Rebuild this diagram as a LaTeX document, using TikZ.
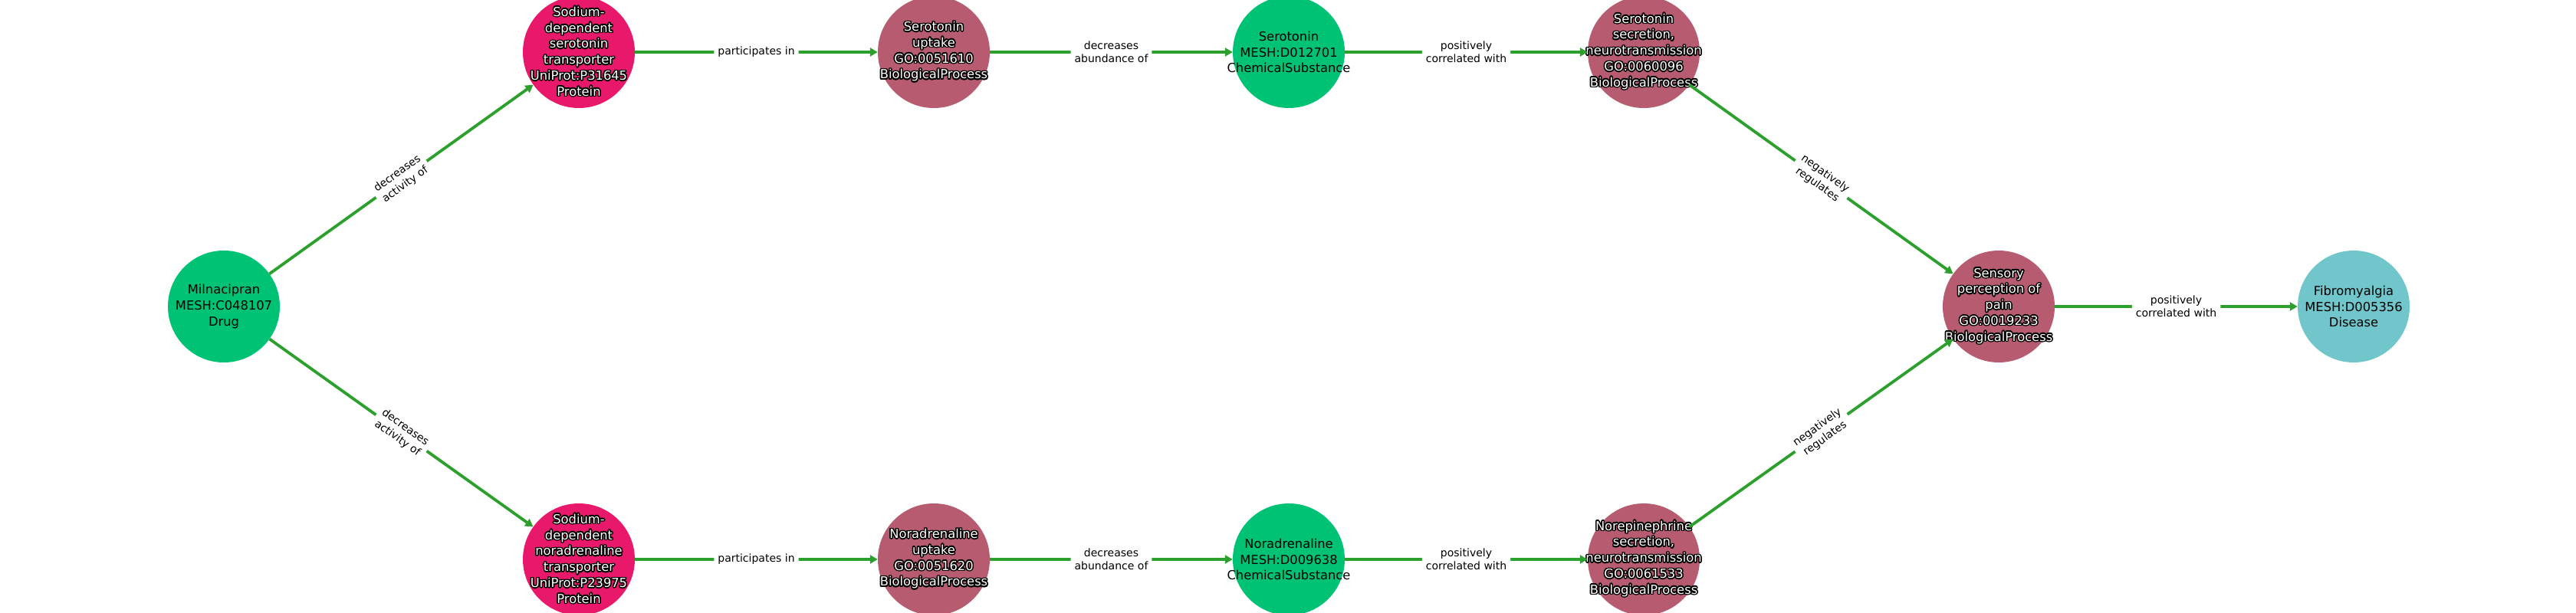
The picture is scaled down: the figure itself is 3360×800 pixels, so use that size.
\documentclass[tikz,border=0pt]{standalone}
\usepackage{fontspec}
\setmainfont{DejaVu Sans}
\usepackage[copies]{contour}
\contourlength{1.5pt}
\usetikzlibrary{arrows.meta}
\definecolor{cgreen}{HTML}{00C274}
\definecolor{cpink}{HTML}{E8196A}
\definecolor{cmauve}{HTML}{B75B70}
\definecolor{cteal}{HTML}{70C6CA}
\definecolor{cedge}{HTML}{2CA02C}
\newcommand\outl[1]{\contour{black}{#1}}
\begin{document}
\begin{tikzpicture}[x={(1pt,0pt)},y={(0pt,-1pt)},
  nd/.style={circle,minimum size=146pt,inner sep=0pt},
  chem/.style={nd,fill=cgreen},
  prot/.style={nd,fill=cpink},
  proc/.style={nd,fill=cmauve},
  dis/.style={nd,fill=cteal},
  txt/.style={inner sep=0pt,align=center,text=black,font=\fontsize{16.3}{20.8}\selectfont},
  wtxt/.style={txt,text=white},
  edge/.style={draw=cedge,line width=3.8pt,-{Triangle[length=10pt,width=11pt]}},
  lbl/.style={midway,fill=white,inner xsep=5pt,inner ysep=3pt,rounded corners=3pt,align=center,
    text=black,font=\fontsize{14}{17.5}\selectfont}]
\useasboundingbox (0,0) rectangle (3360,800);
\clip (0,0) rectangle (3360,800);
% nodes
\node[chem] (mil) at (292,400) {};
\node[prot] (sert) at (755,68) {};
\node[proc] (supt) at (1218,68) {};
\node[chem] (ser) at (1681,68) {};
\node[proc] (ssec) at (2144,68) {};
\node[proc] (pain) at (2607,400) {};
\node[dis] (fib) at (3070,400) {};
\node[prot] (net) at (755,730) {};
\node[proc] (nupt) at (1218,730) {};
\node[chem] (nor) at (1681,730) {};
\node[proc] (nsec) at (2144,730) {};
% node texts
\node[txt] (milT) at (mil) {Milnacipran\\MESH:C048107\\Drug};
\node[wtxt] (sertT) at (sert) {\outl{Sodium-}\\\outl{dependent}\\\outl{serotonin}\\\outl{transporter}\\\outl{UniProt:P31645}\\\outl{Protein}};
\node[wtxt] (suptT) at (supt) {\outl{Serotonin}\\\outl{uptake}\\\outl{GO:0051610}\\\outl{BiologicalProcess}};
\node[txt] (serT) at (ser) {Serotonin\\MESH:D012701\\ChemicalSubstance};
\node[wtxt] (ssecT) at (ssec) {\outl{Serotonin}\\\outl{secretion,}\\\outl{neurotransmission}\\\outl{GO:0060096}\\\outl{BiologicalProcess}};
\node[wtxt] (painT) at (pain) {\outl{Sensory}\\\outl{perception of}\\\outl{pain}\\\outl{GO:0019233}\\\outl{BiologicalProcess}};
\node[txt] (fibT) at (fib) {Fibromyalgia\\MESH:D005356\\Disease};
\node[wtxt] (netT) at (net) {\outl{Sodium-}\\\outl{dependent}\\\outl{noradrenaline}\\\outl{transporter}\\\outl{UniProt:P23975}\\\outl{Protein}};
\node[wtxt] (nuptT) at (nupt) {\outl{Noradrenaline}\\\outl{uptake}\\\outl{GO:0051620}\\\outl{BiologicalProcess}};
\node[txt] (norT) at (nor) {Noradrenaline\\MESH:D009638\\ChemicalSubstance};
\node[wtxt] (nsecT) at (nsec) {\outl{Norepinephrine}\\\outl{secretion,}\\\outl{neurotransmission}\\\outl{GO:0061533}\\\outl{BiologicalProcess}};
% edges
\draw[edge] (mil) -- node[lbl,sloped] {decreases\\activity of} (sert);
\draw[edge] (sert) -- node[lbl] {participates in} (supt);
\draw[edge] (supt) -- node[lbl] {decreases\\abundance of} (ser);
\draw[edge] (ser) -- node[lbl] {positively\\correlated with} (ssec);
\draw[edge] (ssec) -- node[lbl,sloped] {negatively\\regulates} (pain);
\draw[edge] (pain) -- node[lbl] {positively\\correlated with} (fib);
\draw[edge] (mil) -- node[lbl,sloped] {decreases\\activity of} (net);
\draw[edge] (net) -- node[lbl] {participates in} (nupt);
\draw[edge] (nupt) -- node[lbl] {decreases\\abundance of} (nor);
\draw[edge] (nor) -- node[lbl] {positively\\correlated with} (nsec);
\draw[edge] (nsec) -- node[lbl,sloped] {negatively\\regulates} (pain);
\end{tikzpicture}
\end{document}
